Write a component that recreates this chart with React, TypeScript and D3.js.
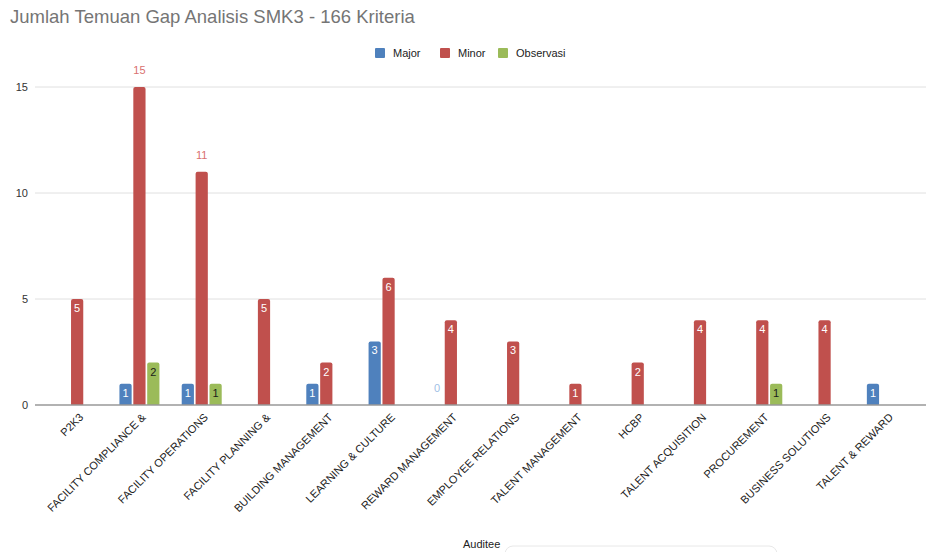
import React from "react";
import * as d3 from "d3";

const categories = [
  "P2K3",
  "FACILITY COMPLIANCE &",
  "FACILITY OPERATIONS",
  "FACILITY PLANNING &",
  "BUILDING MANAGEMENT",
  "LEARNING & CULTURE",
  "REWARD MANAGEMENT",
  "EMPLOYEE RELATIONS",
  "TALENT MANAGEMENT",
  "HCBP",
  "TALENT ACQUISITION",
  "PROCUREMENT",
  "BUSINESS SOLUTIONS",
  "TALENT & REWARD",
];
const major: (number | null)[] = [null, 1, 1, null, 1, 3, 0, null, null, null, null, null, null, 1];
const minor: (number | null)[] = [5, 15, 11, 5, 2, 6, 4, 3, 1, 2, 4, 4, 4, null];
const observasi: (number | null)[] = [null, 2, 1, null, null, null, null, null, null, null, null, 1, null, null];
const seriesNames = ["Major", "Minor", "Observasi"];
const yTicks = [0, 5, 10, 15];

const colors = ["#4f81bd", "#c0504d", "#9bbb59"];
const insideLabelColors = ["#ffffff", "#ffffff", "#1a1a1a"];
const outsideLabelColors = ["#9fbfe6", "#d9706e", "#9bbb59"];

const W = 926;
const H = 552;
const plotLeft = 35;
const plotRight = 926;
const bandLeft = 46;
const bandRight = 918;

export default function App() {
  const series = [major, minor, observasi];
  const x = d3.scaleBand<string>().domain(categories).range([bandLeft, bandRight]).padding(0);
  const inner = d3.scaleBand<number>().domain([0, 1, 2]).range([-20, 20]).paddingInner(0.12);
  const y = d3.scaleLinear().domain([0, 15]).range([405, 87]);
  const bw = inner.bandwidth();
  const font = "Arial, 'Liberation Sans', sans-serif";

  const bars: React.ReactNode[] = [];
  categories.forEach((c, ci) => {
    const cx = (x(c) ?? 0) + x.bandwidth() / 2;
    series.forEach((s, si) => {
      const v = s[ci];
      if (v === null) return;
      const bx = cx + (inner(si) ?? 0);
      const by = y(v);
      const h = y(0) - by;
      if (h > 0) {
        const r = Math.min(2, h / 2);
        const path = `M${bx},${y(0)} V${by + r} Q${bx},${by} ${bx + r},${by} H${bx + bw - r} Q${bx + bw},${by} ${bx + bw},${by + r} V${y(0)} Z`;
        bars.push(<path key={`b${ci}-${si}`} d={path} fill={colors[si]} />);
      }
      const outside = v >= 10 || v === 0;
      bars.push(
        <text
          key={`l${ci}-${si}`}
          x={bx + bw / 2}
          y={v === 0 ? y(0) - 13 : outside ? by - 13 : by + 13}
          textAnchor="middle"
          fontSize={11}
          fontFamily={font}
          fill={outside ? outsideLabelColors[si] : insideLabelColors[si]}
        >
          {v}
        </text>
      );
    });
  });

  const legendItems = [
    { x: 375, label: seriesNames[0] },
    { x: 440, label: seriesNames[1] },
    { x: 498, label: seriesNames[2] },
  ];

  return (
    <svg width={W} height={H} style={{ position: "absolute", left: 0, top: 0, background: "#fff" }}>
      <rect width={W} height={H} fill="#fff" />
      <text x={10} y={23} fontSize={18.5} fontFamily={font} fill="#757575">
        Jumlah Temuan Gap Analisis SMK3 - 166 Kriteria
      </text>
      {legendItems.map((l, i) => (
        <g key={l.label}>
          <rect x={l.x} y={48} width={10} height={10} rx={1} fill={colors[i]} />
          <text x={l.x + 18} y={57} fontSize={11} fontFamily={font} fill="#222">
            {l.label}
          </text>
        </g>
      ))}
      {yTicks.map((t) => (
        <g key={t}>
          {t !== 0 && <line x1={plotLeft} x2={plotRight} y1={y(t)} y2={y(t)} stroke="#e0e0e0" strokeWidth={1} />}
          <text x={28} y={y(t) + 4} textAnchor="end" fontSize={11} fontFamily={font} fill="#333">
            {t}
          </text>
        </g>
      ))}
      {bars}
      <line x1={plotLeft} x2={plotRight} y1={y(0)} y2={y(0)} stroke="#999" strokeWidth={1.5} />
      {categories.map((c) => {
        const cx = (x(c) ?? 0) + x.bandwidth() / 2;
        return (
          <text
            key={c}
            transform={`translate(${cx + 7},${418}) rotate(-45)`}
            textAnchor="end"
            fontSize={11}
            fontFamily={font}
            fill="#222"
          >
            {c}
          </text>
        );
      })}
      <text x={463} y={548} fontSize={11} fontFamily={font} fill="#222">
        Auditee
      </text>
      <rect x={505} y={546} width={272} height={20} rx={8} fill="none" stroke="#e8e8e8" />
    </svg>
  );
}
